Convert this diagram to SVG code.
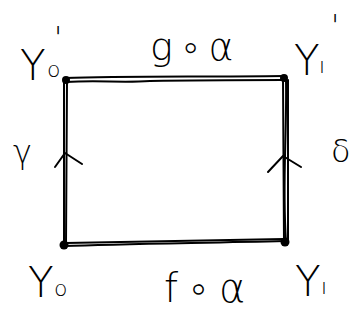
<svg xmlns="http://www.w3.org/2000/svg" width="361" height="322" viewBox="0 0 361 322">
<style>
.e{fill:none;stroke:#000;stroke-width:2;stroke-linecap:round;stroke-linejoin:round}
.t{font-family:"DejaVu Sans","Liberation Sans",sans-serif;font-weight:200;fill:#000}
.big{font-size:42px}
.sub{font-size:22px}
.pr{font-size:30px}
.dot{fill:#000}
</style>
<rect width="361" height="322" fill="#fff"/>
<g id="connectors">
<g id="top-edge">
<path class="e" d="M65 78 C120 76 200 77 284 76"/>
<path class="e" d="M66 82 C100 80 120 83 150 81 C200 80 240 80 283 80"/>
</g>
<g id="bottom-edge">
<path class="e" d="M64 246 C120 244 200 243 285 241"/>
<path class="e" d="M66 243 C130 242 200 240 284 239"/>
</g>
<g id="left-edge">
<path class="e" d="M64 80 L64 245"/>
<path class="e" d="M67 80 C67 140 66 200 66 245"/>
<path class="e" d="M55 167 L65 153 L82 164"/>
</g>
<g id="right-edge">
<path class="e" d="M283 78 L284 242"/>
<path class="e" d="M286 78 C287 140 282 180 286 242"/>
<path class="e" d="M288 80 L288 240"/>
<path class="e" d="M268 172 L283 156 L301 167"/>
</g>
</g>
<g id="n-Y0p">
<circle class="dot" cx="66" cy="80" r="4"/>
<text class="t big" x="20" y="80">Y</text><text class="t sub" x="47" y="77">o</text><text class="t pr" x="54" y="48">'</text>
</g>
<g id="n-Y1p">
<circle class="dot" cx="284" cy="78" r="4"/>
<text class="t big" x="294" y="75">Y</text><text class="t sub" x="319" y="73">ı</text><text class="t pr" x="331" y="36">'</text>
</g>
<g id="n-Y0">
<circle class="dot" cx="64" cy="245" r="4.5"/>
<text class="t big" x="28" y="297">Y</text><text class="t sub" x="54" y="296">o</text>
</g>
<g id="n-Y1">
<circle class="dot" cx="285" cy="242" r="4.5"/>
<text class="t big" x="295" y="296">Y</text><text class="t sub" x="321" y="294">ı</text>
</g>
<g id="labels">
<text class="t" font-size="38" x="150" y="60" letter-spacing="6">g∘α</text>
<text class="t" font-size="40" x="164" y="302" letter-spacing="8">f∘α</text>
<text class="t" font-size="32" x="13" y="163">γ</text>
<text class="t" font-size="32" x="331" y="162">δ</text>
</g>
</svg>
